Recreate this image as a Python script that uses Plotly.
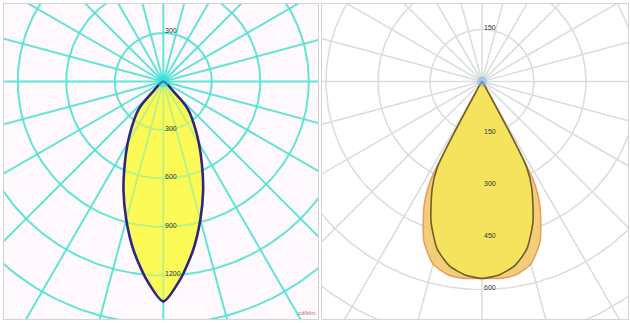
import numpy as np
import plotly.graph_objects as go

# ---------------- data ----------------
# gamma angles (deg from nadir), symmetric curves
left_angles = [0, 5, 10, 15, 20, 25, 30, 35, 40, 42.5, 45, 47.5]
left_cd = [1360, 1225, 1060, 885, 720, 565, 440, 337, 255, 210, 100, 0]

right_angles = [0, 5, 10, 15, 20, 25, 27.5, 30, 32.5, 35]
right_c0_c180 = [568, 560, 540, 500, 430, 340, 280, 40, 5, 0]
right_c90_c270 = [568, 570, 566, 545, 490, 395, 320, 50, 5, 0]

left_rings = [300, 600, 900, 1200, 1500, 1800]
left_labels_below = [300, 600, 900, 1200]
left_labels_above = [300]
right_rings = [150, 300, 450, 600, 750, 900]
right_labels_below = [150, 300, 450, 600]
right_labels_above = [150]
spoke_angles = list(range(0, 360, 15))

# ---------------- helpers ----------------
def curve_xy(angles, vals):
    a = np.radians(np.array(angles, dtype=float))
    v = np.array(vals, dtype=float)
    xr = v * np.sin(a)
    yr = -v * np.cos(a)
    x = np.concatenate([xr, -xr[::-1][1:]])
    y = np.concatenate([yr, yr[::-1][1:]])
    return x, y

def ring_xy(rings):
    t = np.linspace(0, 2 * np.pi, 241)
    xs, ys = [], []
    for r in rings:
        xs += list(r * np.cos(t)) + [None]
        ys += list(r * np.sin(t)) + [None]
    return xs, ys

def spoke_xy(angles, rmax):
    xs, ys = [], []
    for a in angles:
        ar = np.radians(a)
        xs += [0, rmax * np.sin(ar), None]
        ys += [0, -rmax * np.cos(ar), None]
    return xs, ys

W, H = 630, 323
fig = go.Figure()

# ---------------- panel geometry (pixels) ----------------
L = dict(x0=4, x1=318, y0=4, y1=319, cx=163.3, cy=81.5, s=48.5 / 300)
R = dict(x0=322, x1=628, y0=4, y1=319, cx=482.0, cy=81.5, s=52.0 / 150)

def axis_ranges(P):
    xr = [-(P["cx"] - P["x0"]) / P["s"], (P["x1"] - P["cx"]) / P["s"]]
    yr = [-(P["y1"] - P["cy"]) / P["s"], (P["cy"] - P["y0"]) / P["s"]]
    return xr, yr

lxr, lyr = axis_ranges(L)
rxr, ryr = axis_ranges(R)

# ---------------- left panel ----------------
LC = "rgba(80,226,212,0.9)"
lx, ly = curve_xy(left_angles, left_cd)
fig.add_trace(go.Scatter(x=lx, y=ly, xaxis="x", yaxis="y", mode="lines", fill="toself",
                         fillcolor="rgb(252,250,95)", line=dict(width=0, shape="spline", smoothing=0.7),
                         hoverinfo="skip"))
gx, gy = ring_xy(left_rings)
fig.add_trace(go.Scatter(x=gx, y=gy, xaxis="x", yaxis="y", mode="lines",
                         line=dict(color=LC, width=2), hoverinfo="skip"))
sx, sy = spoke_xy(spoke_angles, 2200)
fig.add_trace(go.Scatter(x=sx, y=sy, xaxis="x", yaxis="y", mode="lines",
                         line=dict(color=LC, width=2), hoverinfo="skip"))
fig.add_trace(go.Scatter(x=lx, y=ly, xaxis="x", yaxis="y", mode="lines", fill="toself",
                         fillcolor="rgba(252,250,80,0.6)",
                         line=dict(color="#2d2680", width=2.6, shape="spline", smoothing=0.7),
                         hoverinfo="skip"))
fig.add_trace(go.Scatter(x=[0], y=[0], xaxis="x", yaxis="y", mode="markers",
                         marker=dict(size=12, color="rgba(40,220,240,0.55)"), hoverinfo="skip"))

# ---------------- right panel ----------------
RC = "rgb(218,222,222)"
gx, gy = ring_xy(right_rings)
fig.add_trace(go.Scatter(x=gx, y=gy, xaxis="x2", yaxis="y2", mode="lines",
                         line=dict(color=RC, width=1.6), hoverinfo="skip"))
sx, sy = spoke_xy(spoke_angles, 1000)
fig.add_trace(go.Scatter(x=sx, y=sy, xaxis="x2", yaxis="y2", mode="lines",
                         line=dict(color=RC, width=1.6), hoverinfo="skip"))
ox, oy = curve_xy(right_angles, right_c90_c270)
fig.add_trace(go.Scatter(x=ox, y=oy, xaxis="x2", yaxis="y2", mode="lines", fill="toself",
                         fillcolor="rgba(243,200,105,0.9)",
                         line=dict(color="#e8a060", width=1.6, shape="spline", smoothing=0.6),
                         hoverinfo="skip"))
ix, iy = curve_xy(right_angles, right_c0_c180)
fig.add_trace(go.Scatter(x=ix, y=iy, xaxis="x2", yaxis="y2", mode="lines", fill="toself",
                         fillcolor="rgba(246,228,92,0.95)",
                         line=dict(color="#6f5f2c", width=1.6, shape="spline", smoothing=0.6),
                         hoverinfo="skip"))
fig.add_trace(go.Scatter(x=[0], y=[0], xaxis="x2", yaxis="y2", mode="markers",
                         marker=dict(size=10, color="rgba(120,180,245,0.55)"), hoverinfo="skip"))

# ---------------- labels ----------------
FONT = dict(size=7, color="#333333", family="Liberation Sans")
ann = []
for v in left_labels_below:
    ann.append(dict(x=0, y=-v, xref="x", yref="y", text=str(v), showarrow=False,
                    xanchor="left", yanchor="middle", yshift=2, font=FONT))
for v in left_labels_above:
    ann.append(dict(x=0, y=v, xref="x", yref="y", text=str(v), showarrow=False,
                    xanchor="left", yanchor="middle", yshift=3, font=FONT))
for v in right_labels_below:
    ann.append(dict(x=0, y=-v, xref="x2", yref="y2", text=str(v), showarrow=False,
                    xanchor="left", yanchor="middle", yshift=2, font=FONT))
for v in right_labels_above:
    ann.append(dict(x=0, y=v, xref="x2", yref="y2", text=str(v), showarrow=False,
                    xanchor="left", yanchor="middle", yshift=2, font=FONT))
ann.append(dict(x=317 / W, y=(H - 318) / H, xref="paper", yref="paper", text="cd/klm",
                showarrow=False, xanchor="right", yanchor="bottom",
                font=dict(size=6, color="#b07080", family="Liberation Sans")))

def dom(P):
    return [P["x0"] / W, P["x1"] / W], [(H - P["y1"]) / H, (H - P["y0"]) / H]

ldx, ldy = dom(L)
rdx, rdy = dom(R)
axcommon = dict(showgrid=False, zeroline=False, showticklabels=False, ticks="",
                showline=True, mirror=True, linecolor="#d4d4d4", linewidth=1, fixedrange=True)

shapes = [dict(type="rect", xref="paper", yref="paper", x0=ldx[0], x1=ldx[1], y0=ldy[0], y1=ldy[1],
               fillcolor="#fff8fc", line=dict(width=0), layer="below")]

fig.update_layout(
    width=W, height=H, margin=dict(l=0, r=0, t=0, b=0),
    paper_bgcolor="white", plot_bgcolor="rgba(0,0,0,0)", showlegend=False,
    xaxis=dict(domain=ldx, range=lxr, anchor="y", **axcommon),
    yaxis=dict(domain=ldy, range=lyr, anchor="x", **axcommon),
    xaxis2=dict(domain=rdx, range=rxr, anchor="y2", **axcommon),
    yaxis2=dict(domain=rdy, range=ryr, anchor="x2", **axcommon),
    annotations=ann, shapes=shapes,
)

fig.write_html("out.html", config={"displayModeBar": False},
               post_script="document.body.style.margin='0px';document.body.style.padding='0px';")
